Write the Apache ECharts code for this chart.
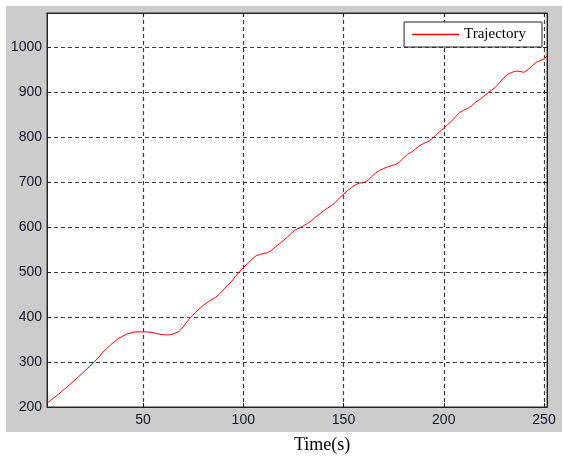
<!DOCTYPE html>
<html>
<head>
<meta charset="utf-8">
<script src="https://cdn.jsdelivr.net/npm/echarts@6/dist/echarts.min.js"></script>
<style>
  html, body { margin: 0; padding: 0; background: #ffffff; }
  #frame { position: absolute; left: 6px; top: 6px; width: 556px; height: 426px; background: #cccccc; }
  #chart { position: absolute; left: 0; top: 0; width: 563px; height: 461px; }
</style>
</head>
<body>
<div id="frame"></div>
<div id="chart"></div>
<script>
// Trajectory samples: time (s) and position
const timeS = [
  2, 4, 6, 8, 10, 12, 14, 16, 18, 20, 22, 24, 26, 28, 30, 32, 34, 36, 38, 40,
  42, 44, 46, 48, 50, 52, 54, 56, 58, 60, 62, 64, 66, 68, 70, 72, 74, 76, 78, 80,
  82, 84, 86, 88, 90, 92, 94, 96, 98, 100, 102, 104, 106, 108, 110, 112, 114, 116, 118, 120,
  122, 124, 126, 128, 130, 132, 134, 136, 138, 140, 142, 144, 146, 148, 150, 152, 154, 156, 158, 160,
  162, 164, 166, 168, 170, 172, 174, 176, 178, 180, 182, 184, 186, 188, 190, 192, 194, 196, 198, 200,
  202, 204, 206, 208, 210, 212, 214, 216, 218, 220, 222, 224, 226, 228, 230, 232, 234, 236, 238, 240,
  242, 244, 246, 248, 250, 251.5
];
const trajectory = [
  208, 215, 222, 229, 237, 244, 252, 260, 268, 276, 285, 293, 302, 311, 322, 330, 339, 346, 353, 358,
  362, 365, 367, 367, 367, 367, 366, 364, 362, 361, 360, 361, 364, 368, 378, 390, 401, 409, 418, 426,
  432, 438, 443, 451, 460, 470, 478, 490, 500, 510, 518, 527, 535, 539, 541, 543, 548, 556, 563, 570,
  578, 586, 594, 598, 603, 608, 614, 622, 629, 636, 642, 648, 655, 665, 673, 681, 688, 694, 698, 699,
  703, 712, 720, 726, 730, 734, 737, 739, 745, 754, 762, 767, 774, 781, 786, 790, 796, 804, 812, 820,
  828, 836, 846, 855, 860, 864, 870, 878, 884, 891, 898, 905, 912, 922, 932, 940, 944, 947, 946, 944,
  950, 958, 966, 970, 974, 980
];
const xTicks = [50, 100, 150, 200, 250];
const yTicks = [200, 300, 400, 500, 600, 700, 800, 900, 1000];
const xRange = [2.1, 251.5];
const yRange = [200, 1076];
const seriesName = 'Trajectory';
const xTitle = 'Time(s)';

const points = timeS.map((t, i) => [t, trajectory[i]]);

const gridLine = { show: true, lineStyle: { color: '#3a3a3a', type: [4, 3], width: 1.2 } };
const labelFont = { fontFamily: 'Liberation Sans', fontSize: 14, color: '#141428', formatter: v => String(v) };

const chart = echarts.init(document.getElementById('chart'), null, { renderer: 'canvas' });
chart.setOption({
  backgroundColor: 'transparent',
  animation: false,
  grid: {
    left: 47, top: 13, right: 16, bottom: 54,
    show: true, backgroundColor: '#ffffff', borderColor: '#333333', borderWidth: 1
  },
  legend: {
    data: [{ name: seriesName, icon: 'rect' }],
    right: 21, top: 22,
    backgroundColor: '#ffffff',
    borderColor: '#222222', borderWidth: 1, borderRadius: 0,
    padding: [5, 16, 5, 8],
    itemWidth: 47, itemHeight: 1.3,
    itemGap: 5,
    textStyle: { fontFamily: 'Liberation Serif', fontSize: 15, color: '#000000' }
  },
  xAxis: [{
    type: 'value', min: xRange[0], max: xRange[1],
    axisLine: { show: true, lineStyle: { color: '#222222', width: 1 } },
    axisTick: { show: true, inside: true, length: 4, customValues: xTicks, lineStyle: { color: '#222222' } },
    axisLabel: { customValues: xTicks, margin: 6, ...labelFont },
    splitLine: gridLine
  }, {
    type: 'value', position: 'top', min: xRange[0], max: xRange[1],
    axisLine: { show: true, lineStyle: { color: '#222222' } },
    axisTick: { show: true, inside: true, length: 4, customValues: xTicks, lineStyle: { color: '#222222' } },
    axisLabel: { show: false },
    splitLine: { show: false }
  }],
  yAxis: [{
    type: 'value', min: yRange[0], max: yRange[1],
    axisLine: { show: true, lineStyle: { color: '#222222', width: 1 } },
    axisTick: { show: true, inside: true, length: 4, customValues: yTicks, lineStyle: { color: '#222222' } },
    axisLabel: { customValues: yTicks, margin: 5, ...labelFont },
    splitLine: gridLine
  }, {
    type: 'value', position: 'right', min: yRange[0], max: yRange[1],
    axisLine: { show: true, lineStyle: { color: '#222222' } },
    axisTick: { show: true, inside: true, length: 4, customValues: yTicks, lineStyle: { color: '#222222' } },
    axisLabel: { show: false },
    splitLine: { show: false }
  }],
  graphic: [{
    type: 'text', left: 323 - 29, top: 436,
    style: { text: xTitle, fontFamily: 'Liberation Serif', fontSize: 18, fill: '#000000' }
  }],
  series: [{
    name: seriesName, type: 'line', data: points,
    xAxisIndex: 0, yAxisIndex: 0,
    symbol: 'none', showSymbol: false,
    lineStyle: { color: '#ff0000', width: 1 },
    itemStyle: { color: '#ff0000' }
  }]
});
</script>
</body>
</html>
